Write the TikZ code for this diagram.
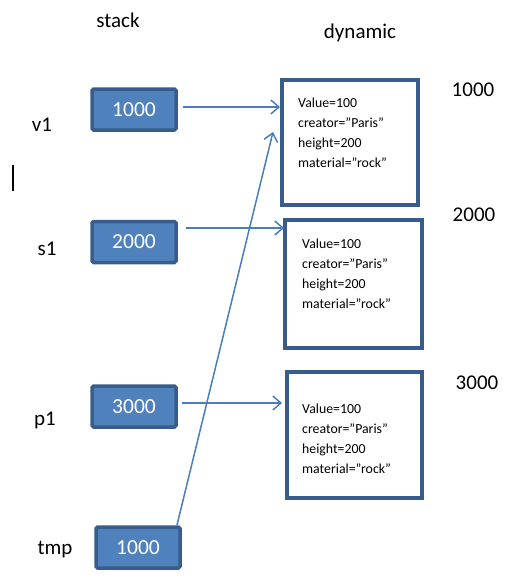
\documentclass[tikz,border=0pt]{standalone}
\usepackage{fontspec}
\setmainfont{Carlito}
\usetikzlibrary{arrows.meta}
\definecolor{boxfill}{HTML}{4F81BD}
\definecolor{boxline}{HTML}{385D8A}
\definecolor{arrcol}{HTML}{4A7EBB}
\begin{document}
\begin{tikzpicture}[x=1pt,y=-1pt,
  stackbox/.style={draw=boxline,fill=boxfill,line width=3.5pt,rounded corners=1.5pt,
    minimum width=84pt,minimum height=41pt,inner sep=0pt,text=white,font=\fontsize{21.5}{24}\selectfont},
  heapbox/.style={draw=boxline,line width=4pt,inner sep=0pt},
  lbl/.style={font=\fontsize{21}{24}\selectfont,inner sep=0pt},
  fields/.style={font=\fontsize{13.8}{19.8}\selectfont,align=left,anchor=north west,inner sep=0pt},
  arr/.style={draw=arrcol,line width=1.5pt,-{Straight Barb[length=8pt,width=14pt,line width=1.5pt]}}]
\useasboundingbox (0,0) rectangle (514,586);
% titles
\node[lbl] (tstack) at (118,20) {stack};
\node[lbl] (tdyn) at (360,33) {dynamic};
% variable names
\node[lbl] (nv1) at (42,125) {v1};
\node[lbl] (ns1) at (47,249) {s1};
\node[lbl] (np1) at (45,420) {p1};
\node[lbl] (ntmp) at (55,550) {tmp};
% stack boxes
\node[stackbox] (v1) at (134,109.5) {1000};
\node[stackbox] (s1) at (134,242) {2000};
\node[stackbox] (p1) at (134,406.5) {3000};
\node[stackbox] (tmp) at (138,547.5) {1000};
% heap boxes
\node[heapbox,minimum width=136pt,minimum height=125pt] (m1) at (350,142.5) {};
\node[heapbox,minimum width=137pt,minimum height=128pt] (m2) at (353.5,284) {};
\node[heapbox,minimum width=135pt,minimum height=126pt] (m3) at (354.5,435) {};
\node[fields] (f1) at (298,98) {Value=100\\creator=”Paris”\\height=200\\material=”rock”};
\node[fields] (f2) at (302,239) {Value=100\\creator=”Paris”\\height=200\\material=”rock”};
\node[fields] (f3) at (302,404) {Value=100\\creator=”Paris”\\height=200\\material=”rock”};
% addresses
\node[lbl] (a1) at (473,90) {1000};
\node[lbl] (a2) at (474,215) {2000};
\node[lbl] (a3) at (477,383) {3000};
% cursor
\coordinate (c1) at (13,165);
\coordinate (c2) at (13,191);
\draw[line width=2pt] (c1) -- (c2);
% arrows
\coordinate (v1s) at (183,107);
\coordinate (v1e) at (280,107);
\coordinate (s1s) at (186,228);
\coordinate (s1e) at (284,228);
\coordinate (p1s) at (182,403);
\coordinate (p1e) at (282,403);
\coordinate (tms) at (177,525);
\coordinate (tme) at (273,132);
\draw[arr] (v1s) -- (v1e);
\draw[arr] (s1s) -- (s1e);
\draw[arr] (p1s) -- (p1e);
\draw[arr] (tms) -- (tme);
\end{tikzpicture}
\end{document}
